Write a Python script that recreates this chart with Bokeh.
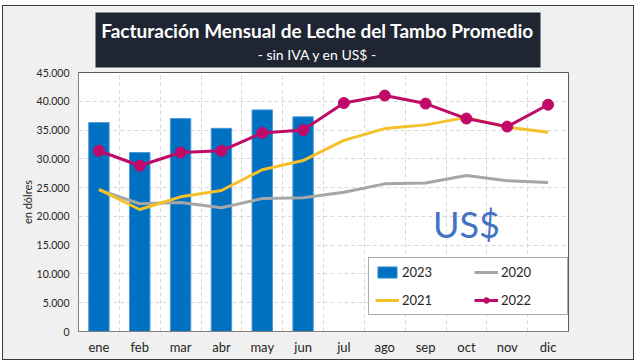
from bokeh.plotting import figure
from bokeh.models import Range1d, FixedTicker, Legend, LegendItem, Label
from bokeh.layouts import column
from bokeh.core.properties import value
from bokeh.embed import file_html
from bokeh.resources import INLINE

# ---- data ----
months = ["ene", "feb", "mar", "abr", "may", "jun", "jul", "ago", "sep", "oct", "nov", "dic"]
v2023 = [36300, 31100, 37000, 35300, 38500, 37300]
v2020 = [24600, 22200, 22400, 21500, 23100, 23250, 24200, 25650, 25800, 27100, 26200, 25900]
v2021 = [24700, 21200, 23400, 24500, 28100, 29700, 33200, 35250, 35900, 37200, 35500, 34600]
v2022 = [31400, 28800, 31100, 31400, 34500, 35000, 39700, 41000, 39600, 37000, 35600, 39400]
y_ticks = [0, 5000, 10000, 15000, 20000, 25000, 30000, 35000, 40000, 45000]
y_tick_labels = ["0", "5.000", "10.000", "15.000", "20.000", "25.000", "30.000", "35.000", "40.000", "45.000"]
title_text = "Facturación Mensual de Leche del Tambo Promedio"
subtitle_text = "- sin IVA y en US$ -"

FONT = "Lato"
BG = "#F0F0F0"
W = 630
HH = 62
HM = 291
BL = 75   # left border (frame start)
BR = 65   # right border

# ---- header (frame aligned with the chart frame; x range in pixel units) ----
h = figure(width=W, height=HH, x_range=Range1d(BL, W - BR), y_range=Range1d(0, HH),
           output_backend="svg", toolbar_location=None,
           min_border_left=BL, min_border_right=BR, min_border_top=0, min_border_bottom=0,
           x_axis_location=None, y_axis_location=None,
           background_fill_color=BG, border_fill_color=BG, outline_line_color=None)
h.grid.visible = False
h.rect(x=[314.5], y=[28.5], width=[445], height=[55], fill_color="#1F2532", line_color=None)
h.text(x=[314], y=[38], text=[title_text], text_font=value(FONT), text_font_style="bold",
       text_font_size="19px", text_color="white", text_align="center", text_baseline="middle")
h.text(x=[314], y=[14], text=[subtitle_text], text_font=value(FONT),
       text_font_size="14px", text_color="white", text_align="center", text_baseline="middle")

# ---- main chart ----
xs = list(range(len(months)))
p = figure(width=W, height=HM, x_range=Range1d(-0.5, len(months) - 0.5),
           y_range=Range1d(y_ticks[0], y_ticks[-1]),
           output_backend="svg", toolbar_location=None,
           min_border_left=BL, min_border_right=BR, min_border_top=4, min_border_bottom=28,
           background_fill_color="white", border_fill_color=BG,
           outline_line_color="#595959", outline_line_width=1)

p.xaxis.ticker = FixedTicker(ticks=xs)
p.xaxis.major_label_overrides = {i: m for i, m in enumerate(months)}
p.yaxis.ticker = FixedTicker(ticks=y_ticks)
p.yaxis.major_label_overrides = {t: l for t, l in zip(y_ticks, y_tick_labels)}
p.xgrid.ticker = FixedTicker(ticks=[i + 0.5 for i in xs[:-1]])
p.ygrid.ticker = FixedTicker(ticks=y_ticks[1:])
p.grid.grid_line_color = "#D9D9D9"
p.grid.grid_line_dash = "4 3"
p.grid.grid_line_width = 1

for ax in (p.xaxis, p.yaxis):
    ax.major_tick_line_color = None
    ax.minor_tick_line_color = None
    ax.major_tick_out = 0
    ax.major_tick_in = 0
    ax.minor_tick_out = 0
    ax.minor_tick_in = 0
    ax.axis_line_color = "#7F7F7F"
    ax.major_label_text_font = FONT
    ax.major_label_text_color = "#262626"
p.xaxis.major_label_text_font_size = "13px"
p.xaxis.major_label_standoff = 7
p.yaxis.major_label_text_font_size = "10.5px"
p.yaxis.major_label_standoff = 9
p.yaxis.axis_label = "en dólres"
p.yaxis.axis_label_text_font = FONT
p.yaxis.axis_label_text_font_size = "11px"
p.yaxis.axis_label_text_font_style = "normal"
p.yaxis.axis_label_text_color = "#262626"
p.yaxis.axis_label_standoff = 0

r23 = p.vbar(x=xs[:len(v2023)], top=v2023, width=0.5, fill_color="#0070C0", line_color="#4A9AD8", line_width=1)
r20 = p.line(xs, v2020, line_color="#A6A6A6", line_width=3)
r21 = p.line(xs, v2021, line_color="#F5C02A", line_width=3)
r22l = p.line(xs, v2022, line_color="#C00A68", line_width=3)
r22m = p.scatter(xs, v2022, size=11, marker="circle", fill_color="#C00A68", line_color="#C00A68")

p.add_layout(Label(x=9.0, y=18700, text="US$", text_font=FONT, text_font_size="36px",
                   text_color="#4472C4", text_align="center", text_baseline="alphabetic"))

legend = Legend(items=[LegendItem(label="2023", renderers=[r23]),
                       LegendItem(label="2021", renderers=[r21]),
                       LegendItem(label="2020", renderers=[r20]),
                       LegendItem(label="2022", renderers=[r22l, r22m])],
                ncols=2, location=(290, 16), padding=6, spacing=12,
                glyph_width=24, glyph_height=14, label_height=16, label_width=60, label_standoff=3,
                label_text_font=FONT, label_text_font_size="13px", label_text_color="#262626",
                border_line_color="#595959", border_line_width=1,
                background_fill_color="white", background_fill_alpha=1)
p.add_layout(legend, "center")

layout = column(h, p, spacing=0, margin=(5, 0, 0, 2),
                styles={"border": "1px solid #3A3A3A", "background-color": BG})
open("out.html", "w").write(file_html(layout, INLINE))
